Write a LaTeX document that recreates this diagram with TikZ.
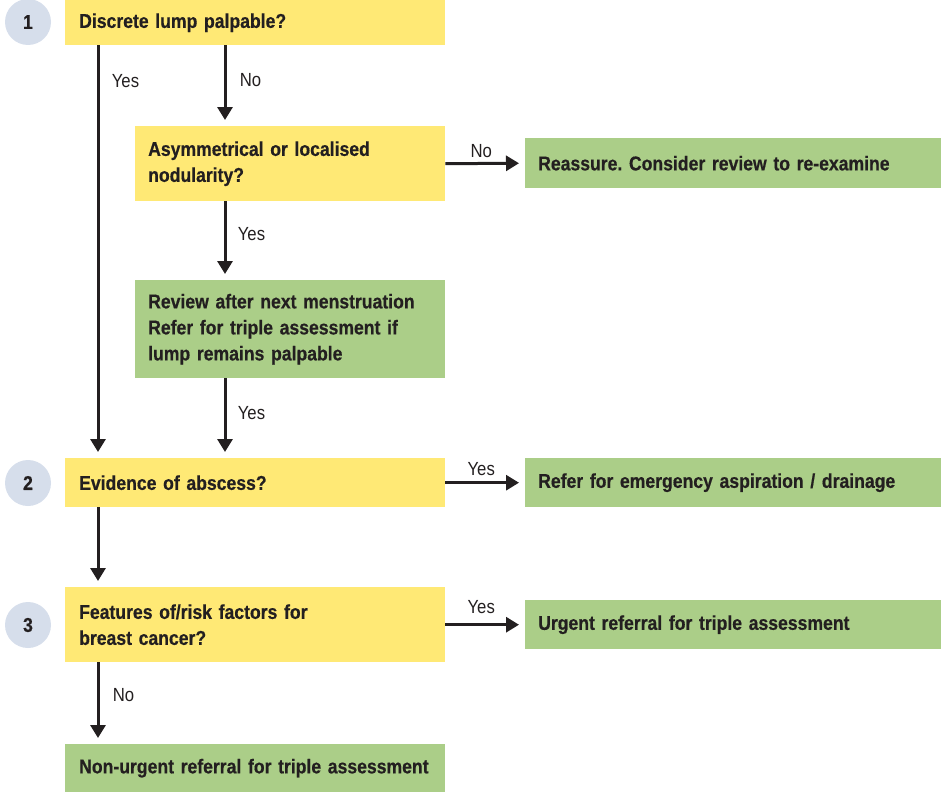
\documentclass[tikz,border=0pt]{standalone}
\usepackage{fontspec}
\setmainfont{Liberation Sans}[FakeStretch=0.88, WordSpace=0.7, BoldFeatures={FakeBold=0.5}]
\frenchspacing
\usetikzlibrary{arrows.meta,positioning}
\definecolor{ylw}{HTML}{FFE975}
\definecolor{grn}{HTML}{ABCE88}
\definecolor{circ}{HTML}{D6DEEB}
\definecolor{ink}{HTML}{231F20}
\tikzset{
  box/.style={anchor=north west, inner xsep=13pt, inner ysep=0pt, align=left,
    font=\fontsize{20}{26}\selectfont\bfseries\frenchspacing, text=ink},
  ybox/.style={box, fill=ylw},
  gbox/.style={box, fill=grn},
  numc/.style={circle, fill=circ, minimum size=46pt, inner sep=0pt,
    font=\fontsize{20}{24}\selectfont\bfseries, text=ink},
  arr/.style={draw=ink, line width=3pt, -{Triangle[width=15pt,length=13pt]}, shorten >=6pt},
  lbl/.style={font=\fontsize{19}{24}\selectfont, text=ink}
}
\begin{document}
\begin{tikzpicture}[x=1pt,y=-1pt]
\useasboundingbox (0,0) rectangle (941,792);
% step circles
\node[numc] (c1) at (28,22) {1};
\node[numc] (c2) at (28,483) {2};
\node[numc] (c3) at (28,625) {3};
% boxes
\node[ybox, minimum width=380pt, minimum height=45pt, text width=352pt] (b1) at (65,0) {Discrete lump palpable?};
\node[ybox, minimum width=310pt, minimum height=75pt, text width=284pt] (b2) at (135,126) {Asymmetrical or localised\\nodularity?};
\node[gbox, minimum width=416pt, minimum height=50pt, text width=390pt] (r1) at (525,138) {Reassure. Consider review to re-examine};
\node[gbox, minimum width=310pt, minimum height=98pt, text width=284pt] (g1) at (135,280) {Review after next menstruation\\Refer for triple assessment if\\lump remains palpable};
\node[ybox, minimum width=380pt, minimum height=49pt, text width=352pt] (b4) at (65,458) {Evidence of abscess?};
\node[gbox, minimum width=416pt, minimum height=49pt, text width=390pt] (g2) at (525,458) {Refer for emergency aspiration / drainage};
\node[ybox, minimum width=380pt, minimum height=75pt, text width=352pt] (b5) at (65,587) {Features of/risk factors for\\breast cancer?};
\node[gbox, minimum width=416pt, minimum height=49pt, text width=390pt] (g3) at (525,600) {Urgent referral for triple assessment};
\node[gbox, minimum width=380pt, minimum height=48pt, text width=352pt] (g4) at (65,744) {\mbox{Non-urgent referral for triple assessment}};
% connectors
\draw[arr] ([xshift=33pt]b1.south west) -- node[lbl, pos=0.086, right=9pt] {Yes} ([xshift=33pt]b4.north west);
\draw[arr] ([xshift=90pt]b2.north west |- b1.south) -- node[lbl, pos=0.43, right=10pt] {No} ([xshift=90pt]b2.north west);
\draw[arr] (b2.east) -- node[lbl, pos=0.45, above=1pt] {No} (r1.west);
\draw[arr] ([xshift=90pt]b2.south west) -- node[lbl, pos=0.42, right=8pt] {Yes} ([xshift=90pt]g1.north west);
\draw[arr] ([xshift=90pt]g1.south west) -- node[lbl, pos=0.43, right=8pt] {Yes} ([xshift=160pt]b4.north west);
\draw[arr] (b4.east) -- node[lbl, pos=0.45, above=2pt] {Yes} (g2.west);
\draw[arr] ([xshift=33pt]b4.south west) -- ([xshift=33pt]b5.north west);
\draw[arr] (b5.east) -- node[lbl, pos=0.45, above=6pt] {Yes} (g3.west);
\draw[arr] ([xshift=33pt]b5.south west) -- node[lbl, pos=0.4, right=10pt] {No} ([xshift=33pt]g4.north west);
\end{tikzpicture}
\end{document}
